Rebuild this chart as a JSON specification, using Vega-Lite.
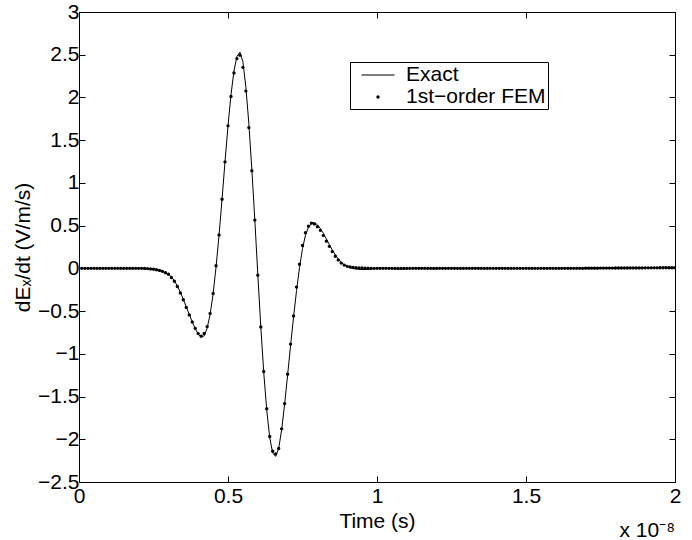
{
  "$schema": "https://vega.github.io/schema/vega-lite/v6.json",
  "width": 596,
  "height": 470,
  "autosize": {"type": "none"},
  "padding": {"left": 79, "top": 12, "right": 17, "bottom": 58},
  "background": "white",
  "config": {
    "view": {"stroke": "black", "strokeWidth": 1},
    "font": "Liberation Sans",
    "axis": {
      "domainColor": "black", "tickColor": "black", "labelColor": "black", "titleColor": "black",
      "labelFont": "Liberation Sans", "titleFont": "Liberation Sans",
      "labelFontSize": 21, "titleFontSize": 21, "titleFontWeight": "normal",
      "grid": false, "tickSize": -6, "domainWidth": 1, "tickWidth": 1, "labelFlush": false, "labelOverlap": false
    }
  },
  "title": {"text": "x 10⁻⁸", "orient": "bottom", "anchor": "end", "fontSize": 21, "fontWeight": "normal", "font": "Liberation Sans", "color": "black", "offset": -11, "frame": "group"},
  "data": {"values": [
    {"t":0,"e":0,"f":0},{"t":0.01,"e":0,"f":0},{"t":0.02,"e":0,"f":0},{"t":0.03,"e":0,"f":0},{"t":0.04,"e":0,"f":0},
    {"t":0.05,"e":0,"f":0},{"t":0.06,"e":0,"f":0},{"t":0.07,"e":0,"f":0},{"t":0.08,"e":0,"f":0},{"t":0.09,"e":0,"f":0},
    {"t":0.1,"e":0,"f":0},{"t":0.11,"e":0,"f":0},{"t":0.12,"e":0,"f":0},{"t":0.13,"e":0,"f":0},{"t":0.14,"e":0,"f":0},
    {"t":0.15,"e":0,"f":0},{"t":0.16,"e":0,"f":0},{"t":0.17,"e":0,"f":0},{"t":0.18,"e":0,"f":0},{"t":0.19,"e":0,"f":0},
    {"t":0.2,"e":0,"f":0},{"t":0.21,"e":-0.001,"f":0},{"t":0.22,"e":-0.002,"f":-0.001},{"t":0.23,"e":-0.004,"f":-0.003},
    {"t":0.24,"e":-0.007,"f":-0.006},{"t":0.25,"e":-0.011,"f":-0.01},{"t":0.26,"e":-0.017,"f":-0.016},{"t":0.27,"e":-0.025,"f":-0.024},
    {"t":0.28,"e":-0.036,"f":-0.035},{"t":0.29,"e":-0.05,"f":-0.05},{"t":0.3,"e":-0.068,"f":-0.068},{"t":0.31,"e":-0.1,"f":-0.107},
    {"t":0.32,"e":-0.145,"f":-0.151},{"t":0.33,"e":-0.205,"f":-0.212},{"t":0.34,"e":-0.28,"f":-0.287},{"t":0.35,"e":-0.36,"f":-0.367},
    {"t":0.36,"e":-0.45,"f":-0.457},{"t":0.37,"e":-0.54,"f":-0.545},{"t":0.38,"e":-0.625,"f":-0.627},{"t":0.39,"e":-0.705,"f":-0.702},
    {"t":0.4,"e":-0.77,"f":-0.763},{"t":0.41,"e":-0.805,"f":-0.794},{"t":0.42,"e":-0.79,"f":-0.762},{"t":0.43,"e":-0.7,"f":-0.681},
    {"t":0.44,"e":-0.54,"f":-0.527},{"t":0.45,"e":-0.3,"f":-0.294},{"t":0.46,"e":0.02,"f":0.031},{"t":0.47,"e":0.39,"f":0.391},
    {"t":0.48,"e":0.81,"f":0.809},{"t":0.49,"e":1.25,"f":1.247},{"t":0.5,"e":1.67,"f":1.668},{"t":0.51,"e":2.03,"f":2.011},
    {"t":0.52,"e":2.31,"f":2.286},{"t":0.53,"e":2.48,"f":2.455},{"t":0.54,"e":2.53,"f":2.495},{"t":0.55,"e":2.42,"f":2.353},
    {"t":0.56,"e":2.12,"f":2.075},{"t":0.57,"e":1.69,"f":1.648},{"t":0.58,"e":1.16,"f":1.143},{"t":0.59,"e":0.57,"f":0.565},
    {"t":0.6,"e":-0.07,"f":-0.08},{"t":0.61,"e":-0.68,"f":-0.685},{"t":0.62,"e":-1.22,"f":-1.206},{"t":0.63,"e":-1.66,"f":-1.642},
    {"t":0.64,"e":-1.98,"f":-1.967},{"t":0.65,"e":-2.16,"f":-2.14},{"t":0.66,"e":-2.2,"f":-2.17},{"t":0.67,"e":-2.11,"f":-2.107},
    {"t":0.68,"e":-1.89,"f":-1.878},{"t":0.69,"e":-1.59,"f":-1.582},{"t":0.7,"e":-1.25,"f":-1.238},{"t":0.71,"e":-0.9,"f":-0.886},
    {"t":0.72,"e":-0.57,"f":-0.557},{"t":0.73,"e":-0.26,"f":-0.219},{"t":0.74,"e":0.01,"f":0.048},{"t":0.75,"e":0.23,"f":0.269},
    {"t":0.76,"e":0.39,"f":0.418},{"t":0.77,"e":0.48,"f":0.494},{"t":0.78,"e":0.525,"f":0.53},{"t":0.79,"e":0.535,"f":0.52},
    {"t":0.8,"e":0.51,"f":0.488},{"t":0.81,"e":0.465,"f":0.445},{"t":0.82,"e":0.41,"f":0.385},{"t":0.83,"e":0.345,"f":0.318},
    {"t":0.84,"e":0.28,"f":0.258},{"t":0.85,"e":0.215,"f":0.196},{"t":0.86,"e":0.16,"f":0.142},{"t":0.87,"e":0.11,"f":0.099},
    {"t":0.88,"e":0.072,"f":0.062},{"t":0.89,"e":0.043,"f":0.038},{"t":0.9,"e":0.022,"f":0.024},{"t":0.91,"e":0.008,"f":0.016},
    {"t":0.92,"e":-0.002,"f":0.011},{"t":0.93,"e":-0.008,"f":0.008},{"t":0.94,"e":-0.012,"f":0.006},{"t":0.95,"e":-0.014,"f":0.004},
    {"t":0.96,"e":-0.014,"f":0.003},{"t":0.97,"e":-0.012,"f":0.002},{"t":0.98,"e":-0.008,"f":0.001},{"t":0.99,"e":-0.004,"f":0},
    {"t":1,"e":0,"f":0},{"t":1.01,"e":0.002,"f":0},{"t":1.02,"e":0.003,"f":0},{"t":1.03,"e":0.002,"f":0},{"t":1.04,"e":0,"f":0},
    {"t":1.05,"e":-0.003,"f":0},{"t":1.06,"e":-0.006,"f":0},{"t":1.07,"e":-0.008,"f":0},{"t":1.08,"e":-0.009,"f":0},{"t":1.09,"e":-0.008,"f":0},
    {"t":1.1,"e":-0.006,"f":0},{"t":1.11,"e":-0.003,"f":0},{"t":1.12,"e":0,"f":0},{"t":1.13,"e":0.002,"f":0},{"t":1.14,"e":0.003,"f":0},
    {"t":1.15,"e":0.002,"f":0},{"t":1.16,"e":0,"f":0},{"t":1.17,"e":-0.002,"f":0},{"t":1.18,"e":-0.004,"f":0},{"t":1.19,"e":-0.005,"f":0},
    {"t":1.2,"e":-0.004,"f":0},{"t":1.21,"e":-0.002,"f":0},{"t":1.22,"e":0,"f":0},{"t":1.23,"e":0.001,"f":0},{"t":1.24,"e":0.002,"f":0},
    {"t":1.25,"e":0.001,"f":0},{"t":1.26,"e":0,"f":0},{"t":1.27,"e":-0.002,"f":0},{"t":1.28,"e":-0.003,"f":0},{"t":1.29,"e":-0.003,"f":0},
    {"t":1.3,"e":-0.002,"f":0},{"t":1.31,"e":0,"f":0},{"t":1.32,"e":0.001,"f":0},{"t":1.33,"e":0.002,"f":0},{"t":1.34,"e":0.001,"f":0},
    {"t":1.35,"e":0,"f":0},{"t":1.36,"e":-0.001,"f":0},{"t":1.37,"e":-0.002,"f":0},{"t":1.38,"e":-0.002,"f":0},{"t":1.39,"e":-0.001,"f":0},
    {"t":1.4,"e":0,"f":0},{"t":1.41,"e":0.001,"f":0},{"t":1.42,"e":0.002,"f":0},{"t":1.43,"e":0.001,"f":0},{"t":1.44,"e":0,"f":0},
    {"t":1.45,"e":-0.001,"f":0},{"t":1.46,"e":-0.002,"f":0},{"t":1.47,"e":-0.001,"f":0},{"t":1.48,"e":0,"f":0},{"t":1.49,"e":0.001,"f":0},
    {"t":1.5,"e":0.002,"f":0},{"t":1.51,"e":0.001,"f":0},{"t":1.52,"e":0,"f":0},{"t":1.53,"e":-0.001,"f":0},{"t":1.54,"e":-0.001,"f":0},
    {"t":1.55,"e":0,"f":0},{"t":1.56,"e":0.001,"f":0},{"t":1.57,"e":0.002,"f":0},{"t":1.58,"e":0.002,"f":0},{"t":1.59,"e":0.001,"f":0},
    {"t":1.6,"e":0,"f":0},{"t":1.61,"e":0,"f":0},{"t":1.62,"e":0.001,"f":0},{"t":1.63,"e":0.002,"f":0},{"t":1.64,"e":0.003,"f":0.001},
    {"t":1.65,"e":0.003,"f":0.001},{"t":1.66,"e":0.003,"f":0.001},{"t":1.67,"e":0.004,"f":0.001},{"t":1.68,"e":0.004,"f":0.001},{"t":1.69,"e":0.004,"f":0.001},
    {"t":1.7,"e":0.005,"f":0.002},{"t":1.71,"e":0.005,"f":0.002},{"t":1.72,"e":0.005,"f":0.002},{"t":1.73,"e":0.006,"f":0.002},{"t":1.74,"e":0.006,"f":0.002},
    {"t":1.75,"e":0.006,"f":0.003},{"t":1.76,"e":0.007,"f":0.003},{"t":1.77,"e":0.007,"f":0.003},{"t":1.78,"e":0.007,"f":0.003},{"t":1.79,"e":0.008,"f":0.003},
    {"t":1.8,"e":0.008,"f":0.004},{"t":1.81,"e":0.008,"f":0.004},{"t":1.82,"e":0.008,"f":0.004},{"t":1.83,"e":0.009,"f":0.004},{"t":1.84,"e":0.009,"f":0.004},
    {"t":1.85,"e":0.009,"f":0.005},{"t":1.86,"e":0.009,"f":0.005},{"t":1.87,"e":0.01,"f":0.005},{"t":1.88,"e":0.01,"f":0.005},{"t":1.89,"e":0.01,"f":0.005},
    {"t":1.9,"e":0.01,"f":0.006},{"t":1.91,"e":0.01,"f":0.006},{"t":1.92,"e":0.011,"f":0.006},{"t":1.93,"e":0.011,"f":0.006},{"t":1.94,"e":0.011,"f":0.006},
    {"t":1.95,"e":0.011,"f":0.007},{"t":1.96,"e":0.011,"f":0.007},{"t":1.97,"e":0.012,"f":0.007},{"t":1.98,"e":0.012,"f":0.007},{"t":1.99,"e":0.012,"f":0.007},
    {"t":2,"e":0.012,"f":0.008}
  ]},
  "layer": [
    {
      "mark": {"type": "line", "color": "black", "strokeWidth": 1, "clip": true},
      "encoding": {
        "x": {"field": "t", "type": "quantitative", "scale": {"domain": [0, 2], "nice": false, "zero": false},
          "axis": {"orient": "bottom", "values": [0, 0.5, 1, 1.5, 2], "format": "~g", "title": "Time (s)", "labelPadding": 9, "titlePadding": 4}},
        "y": {"field": "e", "type": "quantitative", "scale": {"domain": [-2.5, 3], "nice": false, "zero": false},
          "axis": {"orient": "left", "values": [-2.5, -2, -1.5, -1, -0.5, 0, 0.5, 1, 1.5, 2, 2.5, 3], "format": "~g", "title": "dEₓ/dt (V/m/s)", "labelPadding": 6, "titlePadding": 4}}
      }
    },
    {
      "transform": [{"fold": ["f"], "as": ["s", "v"]}],
      "mark": {"type": "point", "filled": true, "color": "black", "opacity": 1, "size": 484, "strokeWidth": 0, "clip": true},
      "encoding": {
        "x": {"field": "t", "type": "quantitative",
          "axis": {"orient": "top", "values": [0, 0.5, 1, 1.5, 2], "labels": false, "title": null}},
        "y": {"field": "v", "type": "quantitative",
          "axis": {"orient": "right", "values": [-2.5, -2, -1.5, -1, -0.5, 0, 0.5, 1, 1.5, 2, 2.5, 3], "labels": false, "title": null}},
        "shape": {"field": "s", "type": "nominal",
          "scale": {"domain": ["e", "f"], "range": ["M-1.5,-0.045H1.5V0.045H-1.5Z", "M0,-0.15A0.15,0.15 0 1,1 0,0.15A0.15,0.15 0 1,1 0,-0.15Z"]},
          "legend": {
            "title": null, "orient": "none", "legendX": 271, "legendY": 50,
            "strokeColor": "black", "fillColor": "white", "padding": 2, "symbolOffset": 15, "labelOffset": 17,
            "labelFont": "Liberation Sans", "labelFontSize": 21, "labelColor": "black", "symbolSize": 484, "rowPadding": 1,
            "symbolFillColor": "black", "symbolStrokeWidth": 0, "symbolOpacity": 1,
            "labelExpr": "datum.value === 'e' ? 'Exact' : '1st−order FEM'"
          }}
      }
    }
  ],
  "resolve": {"axis": {"x": "independent", "y": "independent"}}
}
